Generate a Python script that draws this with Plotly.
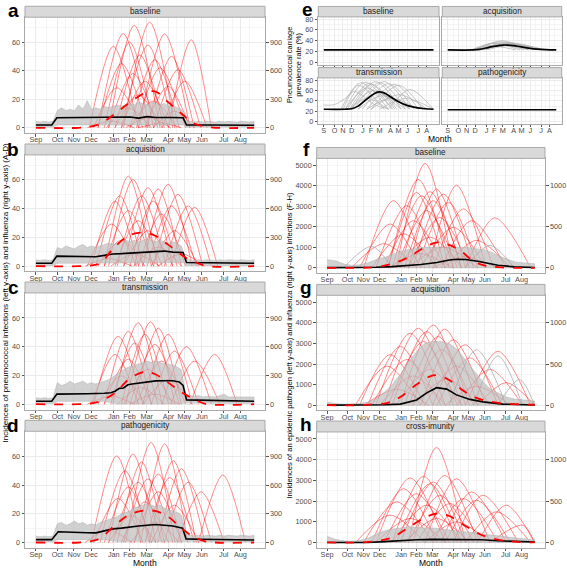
import plotly.graph_objects as go

W, H = 567, 569

# ---------------- axis labels ----------------
MONTHS = ["Sep", "Oct", "Nov", "Dec", "Jan", "Feb", "Mar", "Apr", "May", "Jun", "Jul", "Aug"]
MONTH_ABBR = ["S", "O", "N", "D", "J", "F", "M", "A", "M", "J", "J", "A"]
MONTH_WEEKS = [0, 5.0, 8.9, 12.9, 18.2, 21.9, 25.9, 31.0, 34.7, 38.8, 43.9, 47.8]
WEEKS = list(range(52))

# ---------------- panels a-d : influenza curves (right axis) ----------------
# (start week, peak week, peak value, end week)
a_red = [(20.5,26.6,1110,32.5),(17,23,1075,29),(14.5,20.4,990,26.5),(24,30.1,985,36),(31,36.3,925,41),
         (16,21.9,900,27.5),(20,26.2,870,32),(12.5,18.1,855,24),(18.5,24.3,765,30),(26,31.7,750,37),
         (22,27.8,715,33.5),(14.5,20,675,26),(27.5,33.2,610,38.5),(23.5,29,630,35),(17,22.7,570,28.5),
         (20,25.5,490,31),(29.5,34.8,490,40),(13.5,18.9,420,25),(25.5,30.9,435,36),(18.5,23.9,345,29.5),
         (22,27.4,280,33),(16.5,21.6,210,27),(27.5,32.4,175,37),(21,26.2,105,31.5),(12,17.7,70,23),(24,29.3,50,34)]
b_red = [(16,21.6,940,27),(17,22.7,905,28.5),(25,30.9,855,36.5),(23,28.6,805,34),(20.5,26.2,820,32),
         (19,24.7,735,30.5),(14,19.6,735,25),(27.5,33.2,750,39),(26,31.7,630,37.5),(30,35.6,630,41),
         (13,18.5,680,24),(22,27.4,680,33),(16,21.6,580,27.5),(24,29.3,545,35),(18.5,23.9,475,29.5),
         (31.5,37.1,615,42.5),(12,17.7,440,23.5),(20.5,26.2,370,32),(27,32.4,370,38),(14.5,20,270,25.5),
         (23,28.6,200,34),(17.5,23.1,130,29),(28.5,34,130,39.5),(11.5,16.9,80,22.5)]
c_red = [(21,26.8,860,32.5),(18,23.9,850,29.5),(23,28.6,795,34),(16,21.6,760,27),(13.5,19.2,710,25),
         (20,25.5,730,31),(25,30.9,730,36.5),(17.5,23.1,640,28.5),(22,27.8,625,33.5),(29.5,35.2,600,41),
         (27,32.4,555,38),(36,41.8,520,47),(13,18.5,520,24),(16,21.6,470,27),(23.5,29.3,450,35),
         (31.5,37.1,450,43),(20.5,26.2,365,32),(14.5,20,295,25.5),(25,30.9,260,36.5),(19,24.5,175,30),
         (22,27.8,105,33.5),(12,17.7,85,23)]
d_red = [(21,26.9,1045,32.5),(24.5,30.1,1030,35.5),(13,18.9,905,24.5),(17,22.7,925,28),(19,24.7,840,30),
         (26.5,32.1,855,37.5),(15,20.8,750,26.5),(28.5,34,770,39.5),(38,43.7,705,49),(23,28.6,715,34),
         (20.5,26.2,665,32),(25.5,31.3,680,37),(33,38.6,530,44),(18,23.9,630,29.5),(16,21.6,580,27),
         (30,35.6,630,41),(23,28.6,530,34),(13.5,19.2,460,25),(20,25.5,425,31),(27,32.4,390,38),
         (17,22.4,285,28),(22,27.8,215,33.5),(11.5,16.9,130,22.5)]

# pneumococcal simulations: upper envelope (weekly) and lower envelope
a_upper = [4.5,4,4.5,4,4.5, 12,14,12,13,12,16,13,19, 13,14,13,15,14,15,16,15, 16,17,16,18,17,16,18,17,
           16,17,15,16,14,13, 5,4.5,4,4.5,4,4.5,4,4,4.5,4,4.5,4,4,4.5,4,4,4.5]
b_upper = [4.5,4,4.5,4,4.5, 13,12,14,13,12,14,15,13, 14,13,14,15,16,15,16,17, 18,17,18,17,18,19,18,17,
           18,17,16,17,16,14, 5,4.5,4,4.5,4,4.5,4,4,4.5,4,4.5,4,4,4.5,4,4,4.5]
c_upper = [4.5,4,4.5,4,4.5, 15,13,14,16,14,15,16,14, 15,14,15,16,17,19,21,23, 25,26,27,28,29,30,29,30,
           29,28,28,27,26,24, 7,6,5.5,6,5,5.5,5,5,6,7,5,5,4.5,5,4.5,4.5,5]
d_upper = [4.5,4,4.5,4,4.5, 13,14,12,13,15,13,14,12, 13,12,14,15,16,17,18,20, 21,22,24,25,26,27,26,25,
           26,24,23,22,21,19, 5.5,5,4.5,5,4.5,5,4.5,4.5,5,4.5,5,4.5,4.5,5,4.5,4.5,5]
a_lo_x = [0,4,5,34.5,35,51]; a_lo_y = [0.5,0.5,2,2,0.5,0.5]
b_lo_x = [0,4,5,34.5,35,51]; b_lo_y = [0.5,0.5,2,2.5,0.5,0.5]
c_lo_x = [0,4,5,16,19,33,35,51]; c_lo_y = [0.5,0.5,2,2,0.3,0.3,0.8,0.5]
d_lo_x = [0,4,5,16,19,33,35,51]; d_lo_y = [0.5,0.5,2,2,0.8,0.8,0.8,0.5]

# mean pneumococcal incidence (black)
a_black_x = [0,3.7,4.9,8,12,16,20,22,24,26,28,30,32,34.4,35.2,40,45,51]
a_black_y = [2,2,7,7,7.3,7,7.2,7.5,6.8,7.8,7.2,7.3,7.2,7,2,2,2,1.8]
b_black_x = [0,3.7,4.9,8,12,14,16,18,20,22,24,26,28,30,32,34.4,35.2,40,45,51]
b_black_y = [2,2,7,7,6.8,6.6,7.5,8.5,8.7,9,9.2,9.6,9.8,10.5,9.8,9.5,2.5,2.2,2,2]
c_black_x = [0,3.7,4.9,8,12,16,17.5,18.5,19.5,20.5,21.5,22.5,24,26,28,30,32,33.5,34.4,35.2,38,42,46,51]
c_black_y = [2,2,7,7,7.3,7.6,8,9,11,11.3,13.5,14,14.5,15.3,16.2,16.3,16.3,15.5,13,3,2.8,2.4,2.1,2]
d_black_x = [0,3.7,5.2,8,12,14,16,18,20,22,24,26,28,30,32,34.3,35.1,38,42,46,51]
d_black_y = [2,2,7.5,7,6.8,6.7,8,9.5,10,11,11.5,12,12.5,12,11.5,10,2.5,2.3,2,2,1.8]

# mean influenza incidence (red dashed, right axis)
a_dash_x = [0,10,13,15,17.7,20,23,26,28,30.9,34,37,39.4,42,51]
a_dash_y = [0,0,15,40,120,200,300,375,380,270,150,45,15,0,0]
b_dash_x = [0,10,13,15,18,21,23.5,26,28,30.9,35,38,40,51]
b_dash_y = [0,0,8,30,180,300,345,345,315,225,90,30,0,0]
c_dash_x = [0,10,13,15,18.5,22,25.5,27.8,30.9,34.8,38,40,51]
c_dash_y = [0,0,8,30,120,270,338,315,225,105,30,0,0]
d_dash_x = [0,10,13,15,18.5,21.6,24.7,27.8,30.9,34,36.3,39.4,42,51]
d_dash_y = [0,0,15,45,180,285,330,330,270,150,75,15,0,0]

# ---------------- panels f-h ----------------
f_red = [(17,24.1,1275,31),(15,22.4,1080,30),(25,31.8,1008,39),(20,26.9,960,34),(18,25.3,930,33),
         (15,22,920,29),(21,28.6,900,36),(16,23.2,880,31),(19,26.1,820,33),(9,16.3,820,24),
         (22,29.8,800,37),(12,19.6,760,27),(26,33.5,720,41),(17,24.5,700,32),(34,41.2,610,50),
         (28,35.5,575,44),(8,15.5,535,23),(20,27.7,615,35),(14,21.2,575,29),(23,31,495,39),
         (11,18.8,415,27),(17,25.3,375,33),(29,36.7,335,45),(6,13.9,295,22),(20,28.6,255,37),
         (15,22.8,175,31),(26,33.5,135,42)]
g_red = [(18,26.1,975,34),(14,22.4,935,31),(21,28.9,925,37),(16,24.5,895,33),(12,20.4,875,29),
         (19,27.3,835,35),(23,31,795,39),(10,18,715,26),(26,33.9,735,42),(15,23.7,775,32),
         (34,42,655,50),(8,15.5,615,24),(27,35.1,575,43),(20,28.2,675,36),(11,19.6,555,28),
         (7,14.7,475,23),(24,31.8,475,40),(32,40,435,48),(17,25.3,435,33),(13,21.2,355,29),
         (21,29.4,315,37),(37,44,275,51),(29,36.7,230,45),(9,17.1,195,25)]
h_red = [(20,26.9,1150,34),(21,28.9,810,37),(16,23.7,800,32),(12,20.4,780,29),(24,31.8,770,40),
         (18,26.1,730,34),(17,25.3,710,33),(28,35.5,610,44),(29,36.7,510,45),(26,33.5,530,42),
         (37,44,450,51),(31,38.3,570,47),(11,18.8,650,27),(14,22,590,30),(20,27.7,570,36),
         (9,17.1,490,26),(22,30.2,470,38),(16,24.5,450,33),(7,15.5,330,24),(12,20.4,290,29),
         (19,26.9,290,35),(24,31.8,250,40),(34,41.6,370,50),(40,48.1,210,51)]

FH_WEEKS = [0,2,4,6,8,10,12,14,16,18,20,22,24,26,28,30,32,34,36,38,40,42,44,46,48,50,51]
f_upper = [400,350,200,120,150,250,400,500,650,800,900,950,1000,1000,1000,1000,1000,1000,950,900,800,600,450,300,250,200,200]
g_upper = [150,80,50,50,80,150,300,600,1000,1500,2100,2600,3000,3100,3100,3000,2700,2200,1700,1200,800,600,400,300,250,200,200]
h_upper = [300,150,80,50,100,200,400,550,650,700,750,750,700,700,650,600,550,500,450,400,350,300,250,200,180,150,150]
f_grey = [(4,11,1050,16),(34,40,1100,46)]
g_grey = [(30,36.7,2700,44),(36,42,2400,48),(42,47.3,1250,51)]
h_grey = []

f_black_x = [0,8,12,16,20,23,27,30,32,34,37,40,42,46,51]
f_black_y = [10,10,30,60,110,160,260,380,420,410,320,200,130,50,20]
g_black_x = [0,10,14,18,22,24.5,26.9,29.4,31.8,35.1,38.3,43.2,47,51]
g_black_y = [0,0,20,50,250,600,850,780,500,280,160,50,20,10]
h_black_x = [0,10,14,18,22,26,30,34,38,42,46,51]
h_black_y = [0,0,40,100,130,150,150,150,130,80,40,20]

f_dash_x = [0,8,12,16,20,24,27,30,33,36,39,42,46,51]
f_dash_y = [0,0,10,50,130,250,310,280,200,80,25,8,0,0]
g_dash_x = [0,8,11,14.7,18,22,25.3,27.3,30.2,33.5,36.7,41.6,48,51]
g_dash_y = [0,0,10,25,100,250,350,362,300,175,88,30,8,5]
h_dash_x = [0,8,12,16,20,24,27,30,34,38,42,46,51]
h_dash_y = [0,0,15,60,180,300,350,320,200,90,35,10,0]

# ---------------- panel e : carriage prevalence (%) ----------------
e_flat_x = [0, 51]
e_baseline_y = [23, 23]
e_path_y = [23, 23]
e_acq_x = [0,12,15,18,21,24,26,28,31,34,38,42,46,51]
e_acq_y = [23,23,24,26.5,29,31,32,32,31,29,26.5,24.5,23.5,23]
e_trans_x = [0,10,13,16,19,22,25,28,31,35,39,43,47,51]
e_trans_y = [24,24,25,30,40,50,57,55.5,48,38,31,27,25,24]
e_acq_grey = [(12,24,38,40),(14,25.5,40,38),(13,22,36,36),(15,27,37,42),(11,21,35,34),(16,28,35,44),
              (14,24,33,38),(17,30,36,45),(12,19,31,32),(18,32,33,46)]
e_trans_grey = [(8,17,75,30),(10,19,76,32),(11,21,74,33),(12,22,72,34),(13,24,77,36),(14,26,75,38),
                (16,28,77,40),(18,30,73,42),(20,33,72,44),(22,35,70,46),(10,20,65,32),(12,23,60,36),
                (14,25,55,38),(16,27,50,40),(20,31,45,44),(26,38,45,51),(12,20,45,30),(30,40,62,51),
                (22,35,52,48),(9,16,70,28)]
e_trans_early_x = [0,5,10,14,18,24,30]
e_trans_early_y = [32,33,45,58,50,32,25]

# ---------------- style ----------------
FONT = "Liberation Sans, Arial, sans-serif"
GRID = "#EBEBEB"
BORDER = "#A9A9A9"
STRIP_FILL = "#D9D9D9"
TICK_COLOR = "#4D4D4D"
RED_LINE = "rgba(255,0,0,0.45)"
GREY_FILL = "rgba(190,190,190,0.7)"
GREY_LINE = "rgba(170,170,170,0.75)"
MINOR_X = [(a + b) / 2 for a, b in zip(MONTH_WEEKS[:-1], MONTH_WEEKS[1:])] + [50.0]
SMOOTH = 0.85
TICK_FS = 7.3
STANDOFF = -3


def pxx(p):
    return p / W


def pxy(p):
    return 1 - p / H


def xn(i):
    return "x" if i == 1 else f"x{i}"


def yn(i):
    return "y" if i == 1 else f"y{i}"


def xk(i):
    return "xaxis" if i == 1 else f"xaxis{i}"


def yk(i):
    return "yaxis" if i == 1 else f"yaxis{i}"


fig = go.Figure()
layout = dict(width=W, height=H, margin=dict(l=0, r=0, t=0, b=0),
              paper_bgcolor="white", plot_bgcolor="white", showlegend=False,
              font=dict(family=FONT))
shapes, annots = [], []


def strip(x0, x1, top, label, h=11):
    shapes.append(dict(type="rect", xref="paper", yref="paper", x0=pxx(x0), x1=pxx(x1),
                       y0=pxy(top), y1=pxy(top - h), fillcolor=STRIP_FILL,
                       line=dict(color=BORDER, width=1), layer="above"))
    annots.append(dict(x=pxx((x0 + x1) / 2), y=pxy(top - h / 2), xref="paper", yref="paper",
                       text=label, showarrow=False, font=dict(size=8.2, color="#1A1A1A", family=FONT),
                       xanchor="center", yanchor="middle"))


def xaxis_def(dom, anchor, ticktext, show_labels=True):
    return dict(domain=[pxx(dom[0]), pxx(dom[1])], anchor=anchor, range=[-2.55, 53.55],
                tickmode="array", tickvals=MONTH_WEEKS, ticktext=ticktext, tickangle=0,
                showticklabels=show_labels, ticks="outside", ticklen=2.5, tickwidth=1,
                ticklabelstandoff=STANDOFF,
                tickcolor="#555555", tickfont=dict(size=TICK_FS, color=TICK_COLOR, family=FONT),
                showgrid=True, gridcolor=GRID, gridwidth=1,
                minor=dict(tickvals=MINOR_X, showgrid=True, gridcolor=GRID, gridwidth=0.5, ticks=""),
                showline=True, linecolor=BORDER, linewidth=1, mirror=True, zeroline=False,
                fixedrange=True)


def main_panel(i, xdom, top, bottom, strip_label, red_curves, red_rng, red_ticks, red_minor,
               grey_rng, grey_ticks, band_x, band_up, lo_x, lo_y, black_x, black_y, dash_x, dash_y,
               grey_curves=()):
    ybase, ygrey, ymean = 3 * i - 2, 3 * i - 1, 3 * i
    layout[xk(i)] = xaxis_def(xdom, yn(ybase), MONTHS)
    layout[yk(ybase)] = dict(domain=[pxy(bottom), pxy(top)], anchor=xn(i), side="right", range=red_rng,
                            tickmode="array", tickvals=red_ticks, ticks="outside", ticklen=2.5,
                            tickcolor="#555555", tickfont=dict(size=TICK_FS, color=TICK_COLOR, family=FONT),
                            showgrid=True, gridcolor=GRID, gridwidth=1,
                            minor=dict(tickvals=red_minor, showgrid=True, gridcolor=GRID, gridwidth=0.5, ticks=""),
                            showline=True, linecolor=BORDER, linewidth=1, mirror=True, zeroline=False,
                            fixedrange=True)
    layout[yk(ygrey)] = dict(overlaying=yn(ybase), anchor=xn(i), side="left", range=grey_rng,
                            tickmode="array", tickvals=grey_ticks, ticks="outside", ticklen=2.5,
                            tickcolor="#555555", tickfont=dict(size=TICK_FS, color=TICK_COLOR, family=FONT),
                            showgrid=False, zeroline=False, showline=False, fixedrange=True)
    layout[yk(ymean)] = dict(overlaying=yn(ybase), anchor=xn(i), side="right", range=red_rng,
                            visible=False, showgrid=False, zeroline=False, fixedrange=True)
    for s, pw, pv, e in red_curves:
        fig.add_trace(go.Scatter(x=[s, pw, e], y=[0, pv, 0], mode="lines",
                                 line=dict(color=RED_LINE, width=1, shape="spline", smoothing=SMOOTH),
                                 xaxis=xn(i), yaxis=yn(ybase), hoverinfo="skip"))
    fig.add_trace(go.Scatter(x=list(band_x) + lo_x[::-1], y=list(band_up) + lo_y[::-1], mode="lines",
                             fill="toself", fillcolor=GREY_FILL, line=dict(width=0.6, color=GREY_LINE),
                             xaxis=xn(i), yaxis=yn(ygrey), hoverinfo="skip"))
    for s, pw, pv, e in grey_curves:
        fig.add_trace(go.Scatter(x=[s, pw, e], y=[0, pv, 0], mode="lines",
                                 line=dict(color=GREY_LINE, width=1, shape="spline", smoothing=SMOOTH),
                                 xaxis=xn(i), yaxis=yn(ygrey), hoverinfo="skip"))
    fig.add_trace(go.Scatter(x=black_x, y=black_y, mode="lines", line=dict(color="black", width=1.6),
                             xaxis=xn(i), yaxis=yn(ygrey), hoverinfo="skip"))
    fig.add_trace(go.Scatter(x=dash_x, y=dash_y, mode="lines",
                             line=dict(color="red", width=1.8, dash="dash", shape="spline"),
                             xaxis=xn(i), yaxis=yn(ymean), hoverinfo="skip"))
    strip(xdom[0], xdom[1], top, strip_label)


LEFT_X = (25, 265)
RIGHT_X = (316.7, 545)
AD_RED = [-55.5, 1161]
AD_GREY = [-3.7, 77.4]
FH_RED = [-62.5, 1335]
FH_GREY = [-250, 5340]
AD_RT = [0, 300, 600, 900]
AD_RM = [150, 450, 750, 1050]
FH_RT = [0, 500, 1000]
FH_RM = [125, 250, 375, 625, 750, 875, 1125, 1250]
AD_GT = [0, 20, 40, 60]
FH_GT = [0, 1000, 2000, 3000, 4000, 5000]

main_panel(1, LEFT_X, 15.3, 132.0, "baseline", a_red, AD_RED, AD_RT, AD_RM, AD_GREY, AD_GT,
           WEEKS, a_upper, a_lo_x, a_lo_y, a_black_x, a_black_y, a_dash_x, a_dash_y)
main_panel(2, LEFT_X, 154.0, 271.4, "acquisition", b_red, AD_RED, AD_RT, AD_RM, AD_GREY, AD_GT,
           WEEKS, b_upper, b_lo_x, b_lo_y, b_black_x, b_black_y, b_dash_x, b_dash_y)
main_panel(3, LEFT_X, 293.0, 410.4, "transmission", c_red, AD_RED, AD_RT, AD_RM, AD_GREY, AD_GT,
           WEEKS, c_upper, c_lo_x, c_lo_y, c_black_x, c_black_y, c_dash_x, c_dash_y)
main_panel(4, LEFT_X, 432.3, 549.7, "pathogenicity", d_red, AD_RED, AD_RT, AD_RM, AD_GREY, AD_GT,
           WEEKS, d_upper, d_lo_x, d_lo_y, d_black_x, d_black_y, d_dash_x, d_dash_y)
main_panel(5, RIGHT_X, 157.5, 272.9, "baseline", f_red, FH_RED, FH_RT, FH_RM, FH_GREY, FH_GT,
           FH_WEEKS, f_upper, [0, 51], [0, 0], f_black_x, f_black_y, f_dash_x, f_dash_y, f_grey)
main_panel(6, RIGHT_X, 295.4, 411.2, "acquisition", g_red, FH_RED, FH_RT, FH_RM, FH_GREY, FH_GT,
           FH_WEEKS, g_upper, [0, 51], [0, 0], g_black_x, g_black_y, g_dash_x, g_dash_y, g_grey)
main_panel(7, RIGHT_X, 433.0, 549.5, "cross-imunity", h_red, FH_RED, FH_RT, FH_RM, FH_GREY, FH_GT,
           FH_WEEKS, h_upper, [0, 51], [0, 0], h_black_x, h_black_y, h_dash_x, h_dash_y, h_grey)

# ---------------- panel e facets ----------------
E_COLS = [(318.3, 439.0), (442.3, 561.7)]
E_ROWS = [(15.0, 63.0), (76.5, 122.7)]
e_facets = [
    ("baseline", 0, 0, e_flat_x, e_baseline_y, [], 23, None),
    ("acquisition", 0, 1, e_acq_x, e_acq_y, e_acq_grey, 23, None),
    ("transmission", 1, 0, e_trans_x, e_trans_y, e_trans_grey, 24, (e_trans_early_x, e_trans_early_y)),
    ("pathogenicity", 1, 1, e_flat_x, e_path_y, [], 23, None),
]
for k, (lab, r, c, bx, by, greys, base, extra) in enumerate(e_facets):
    xi = 8 + k
    yi = 22 + k
    xd = E_COLS[c]
    yd = E_ROWS[r]
    layout[xk(xi)] = xaxis_def(xd, yn(yi), MONTH_ABBR, show_labels=(r == 1))
    layout[yk(yi)] = dict(domain=[pxy(yd[1]), pxy(yd[0])], anchor=xn(xi), side="left", range=[-4, 84],
                          tickmode="array", tickvals=[0, 20, 40, 60, 80], showticklabels=(c == 0),
                          ticks="outside" if c == 0 else "", ticklen=2.5, tickcolor="#555555",
                          tickfont=dict(size=TICK_FS, color=TICK_COLOR, family=FONT),
                          showgrid=True, gridcolor=GRID, gridwidth=1,
                          minor=dict(tickvals=[10, 30, 50, 70], showgrid=True, gridcolor=GRID, gridwidth=0.5, ticks=""),
                          showline=True, linecolor=BORDER, linewidth=1, mirror=True, zeroline=False,
                          fixedrange=True)
    for s, pw, pv, e in greys:
        fig.add_trace(go.Scatter(x=[s, pw, e], y=[base, pv, base], mode="lines",
                                 line=dict(color="rgba(175,175,175,0.7)", width=1, shape="spline", smoothing=SMOOTH),
                                 xaxis=xn(xi), yaxis=yn(yi), hoverinfo="skip"))
    if extra is not None:
        fig.add_trace(go.Scatter(x=extra[0], y=extra[1], mode="lines",
                                 line=dict(color="rgba(175,175,175,0.7)", width=1, shape="spline"),
                                 xaxis=xn(xi), yaxis=yn(yi), hoverinfo="skip"))
    fig.add_trace(go.Scatter(x=bx, y=by, mode="lines", line=dict(color="black", width=1.7, shape="spline"),
                             xaxis=xn(xi), yaxis=yn(yi), hoverinfo="skip"))
    strip(xd[0], xd[1], yd[0], lab, h=10.5)

# ---------------- titles and letters ----------------
letters = [("a", 13, 9), ("b", 13, 149), ("c", 13, 288), ("d", 13, 427),
           ("e", 307.5, 7.5), ("f", 306, 148.5), ("g", 306, 287.5), ("h", 306, 425.5)]
for t, x, y in letters:
    annots.append(dict(x=pxx(x), y=pxy(y), xref="paper", yref="paper", text=f"<b>{t}</b>", showarrow=False,
                       font=dict(size=19, color="black", family=FONT), xanchor="center", yanchor="middle"))

annots.append(dict(x=pxx(5.5), y=pxy(293), xref="paper", yref="paper", textangle=-90, showarrow=False,
                   text="Incidences of pneumococcal infections (left y-axis) and influenza (right y-axis) (A-D)",
                   font=dict(size=8.1, color="black", family=FONT), xanchor="center", yanchor="middle"))
annots.append(dict(x=pxx(290), y=pxy(346), xref="paper", yref="paper", textangle=-90, showarrow=False,
                   text="Incidences of an epidemic pathogen (left y-axis) and influenza (right y-axis) infections (F-H)",
                   font=dict(size=7.6, color="black", family=FONT), xanchor="center", yanchor="middle"))
annots.append(dict(x=pxx(293.5), y=pxy(64), xref="paper", yref="paper", textangle=-90, showarrow=False,
                   text="Pneumococcal carriage<br>prevalence rate (%)",
                   font=dict(size=7.3, color="black", family=FONT), xanchor="center", yanchor="middle"))
for x, y in [(145, 564.5), (431, 564.5), (440, 137.5)]:
    annots.append(dict(x=pxx(x), y=pxy(y), xref="paper", yref="paper", text="Month", showarrow=False,
                       font=dict(size=8.5, color="black", family=FONT), xanchor="center", yanchor="middle"))

layout["shapes"] = shapes
layout["annotations"] = annots
fig.update_layout(**layout)
fig.write_html("out.html", config={"displayModeBar": False, "staticPlot": True},
               post_script="document.body.style.margin='0px';document.body.style.padding='0px';"
                           "document.body.style.overflow='hidden';")
